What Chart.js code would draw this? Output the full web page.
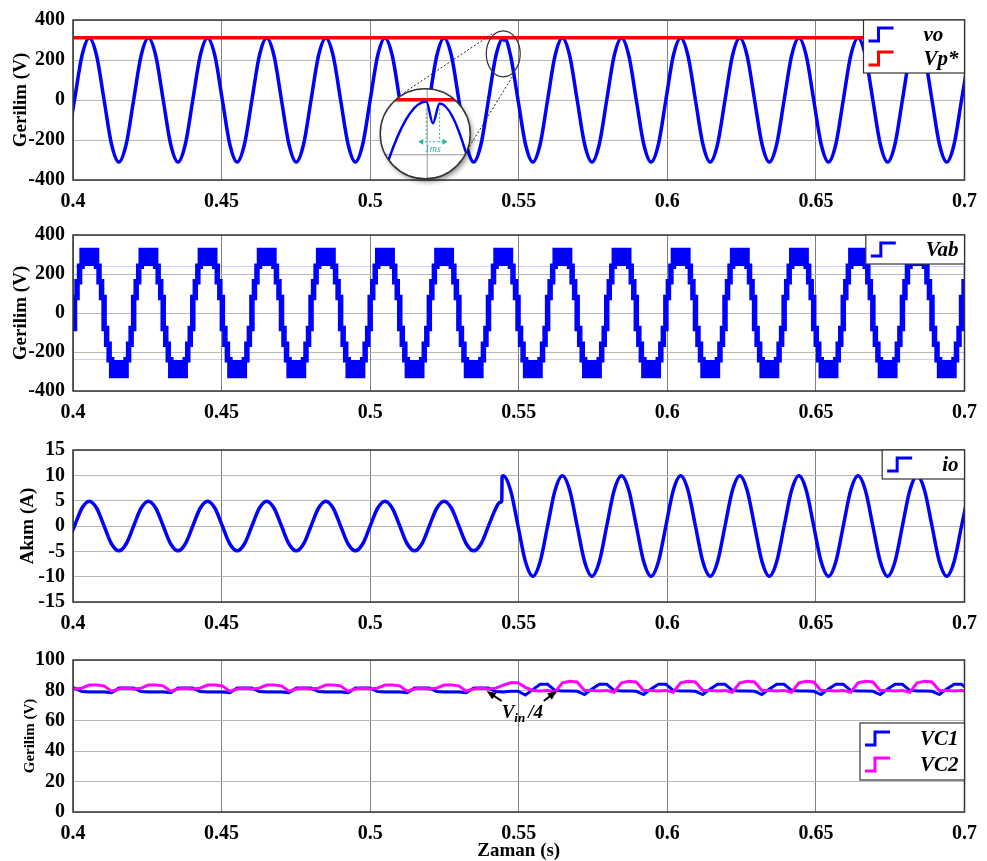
<!DOCTYPE html>
<html>
<head>
<meta charset="utf-8">
<title>Gerilim / Akım</title>
<script src="https://cdn.jsdelivr.net/npm/chart.js"></script>
<style>
  body { margin: 0; background: #fff; }
  #page { position: relative; width: 987px; height: 861px; }
  canvas { position: absolute; left: 0; }
</style>
</head>
<body>
<div id="page">
  <canvas id="voChart" width="987" height="215" style="top:0"></canvas>
  <canvas id="vabChart" width="987" height="215" style="top:215px"></canvas>
  <canvas id="ioChart" width="987" height="210" style="top:430px"></canvas>
  <canvas id="vcChart" width="987" height="221" style="top:640px"></canvas>
</div>
<script>
// sample grid: one reading every 1/8 of a cycle (cycle ~19.9 ms on the picture)
const tStart = 0.39802;
const tStep = 0.0024875;

const xTicks = [0.4, 0.45, 0.5, 0.55, 0.6, 0.65, 0.7];
const xTickLabels = ['0.4', '0.45', '0.5', '0.55', '0.6', '0.65', '0.7'];
const voltTicks = [-400, -200, 0, 200, 400];
const ampTicks = [-15, -10, -5, 0, 5, 10, 15];
const capTicks = [0, 20, 40, 60, 80, 100];

// vo, read at each grid point
const vo = [
  -220, 0, 220, 310, 220, 0, -220, -310,
  -220, 0, 220, 310, 220, 0, -220, -310,
  -220, 0, 220, 310, 220, 0, -220, -310,
  -220, 0, 220, 310, 220, 0, -220, -310,
  -220, 0, 220, 310, 220, 0, -220, -310,
  -220, 0, 220, 310, 220, 0, -220, -310,
  -220, 0, 220, 310, 220, 0, -220, -310,
  -220, 0, 220, 310, 220, 0, -220, -310,
  -220, 0, 220, 310, 220, 0, -220, -310,
  -220, 0, 220, 310, 220, 0, -220, -310,
  -220, 0, 220, 310, 220, 0, -220, -310,
  -220, 0, 220, 310, 220, 0, -220, -310,
  -220, 0, 220, 310, 220, 0, -220, -310,
  -220, 0, 220, 310, 220, 0, -220, -310,
  -220, 0, 220, 310, 220, 0, -220, -310,
  -220, 0, 220
];
// small notch on the vo peak when the load steps
const voNotchT = [0.54503, 0.54528];
const voNotchV = [298, 309];
const notchPeak = [0.54478, 311];

const vpT = [0.39, 0.71];
const vpV = [311, 311];

const vabZeroCross = [
  0.39056, 0.40051, 0.41046, 0.42041, 0.43036, 0.44031, 0.45026, 0.46021,
  0.47016, 0.48011, 0.49006, 0.50001, 0.50996, 0.51991, 0.52986, 0.53981,
  0.54976, 0.55971, 0.56966, 0.57961, 0.58956, 0.59951, 0.60946, 0.61941,
  0.62936, 0.63931, 0.64926, 0.65921, 0.66916, 0.67911, 0.68906, 0.69901
];
const vabStepMs = [0, 0.85, 1.7, 2.55, 7.4, 8.25, 9.1];
const vabStepLevel = [80, 160, 240, 320, 240, 160, 80];

const io = [
  -3.5, 0, 3.5, 4.9, 3.5, 0, -3.5, -4.9,
  -3.5, 0, 3.5, 4.9, 3.5, 0, -3.5, -4.9,
  -3.5, 0, 3.5, 4.9, 3.5, 0, -3.5, -4.9,
  -3.5, 0, 3.5, 4.9, 3.5, 0, -3.5, -4.9,
  -3.5, 0, 3.5, 4.9, 3.5, 0, -3.5, -4.9,
  -3.5, 0, 3.5, 4.9, 3.5, 0, -3.5, -4.9,
  -3.5, 0, 3.5, 4.9, 3.5, 0, -3.5, -4.9,
  -3.5, 0, 3.5, 9.9, 7, 0, -7, -9.9,
  -7, 0, 7, 9.9, 7, 0, -7, -9.9,
  -7, 0, 7, 9.9, 7, 0, -7, -9.9,
  -7, 0, 7, 9.9, 7, 0, -7, -9.9,
  -7, 0, 7, 9.9, 7, 0, -7, -9.9,
  -7, 0, 7, 9.9, 7, 0, -7, -9.9,
  -7, 0, 7, 9.9, 7, 0, -7, -9.9,
  -7, 0, 7, 9.9, 7, 0, -7, -9.9,
  -7, 0, 7
];
// extra readings around the current step
const ioJumpT = [0.5435, 0.5443, 0.54438];
const ioJumpV = [4.6, 4.9, 9.7];

const vc1 = [
  81.5, 81.5, 79.2, 79, 79, 79, 78.5, 81.5,
  81.5, 81.5, 79.2, 79, 79, 79, 78.5, 81.5,
  81.5, 81.5, 79.2, 79, 79, 79, 78.5, 81.5,
  81.5, 81.5, 79.2, 79, 79, 79, 78.5, 81.5,
  81.5, 81.5, 79.2, 79, 79, 79, 78.5, 81.5,
  81.5, 81.5, 79.2, 79, 79, 79, 78.5, 81.5,
  81.5, 81.5, 79.2, 79, 79, 79, 78.5, 81.5,
  81.5, 81.5, 79.2, 79, 79.5, 79.5, 77, 80.5,
  84, 84, 80, 79.6, 79.6, 79.4, 77.3, 81,
  84, 84, 80, 79.6, 79.6, 79.4, 77.3, 81,
  84, 84, 80, 79.6, 79.6, 79.4, 77.3, 81,
  84, 84, 80, 79.6, 79.6, 79.4, 77.3, 81,
  84, 84, 80, 79.6, 79.6, 79.4, 77.3, 81,
  84, 84, 80, 79.6, 79.6, 79.4, 77.3, 81,
  84, 84, 80, 79.6, 79.6, 79.4, 77.3, 81,
  84, 84, 80
];
const vc2 = [
  81.5, 81, 81.5, 83.5, 83.5, 83, 79.5, 81,
  81.5, 81, 81.5, 83.5, 83.5, 83, 79.5, 81,
  81.5, 81, 81.5, 83.5, 83.5, 83, 79.5, 81,
  81.5, 81, 81.5, 83.5, 83.5, 83, 79.5, 81,
  81.5, 81, 81.5, 83.5, 83.5, 83, 79.5, 81,
  81.5, 81, 81.5, 83.5, 83.5, 83, 79.5, 81,
  81.5, 81, 81.5, 83.5, 83.5, 83, 79.5, 81,
  81.5, 81, 81.5, 83.5, 85, 85, 82, 80,
  79.6, 80, 78.8, 85, 86, 85.5, 80, 80,
  79.6, 80, 78.8, 85, 86, 85.5, 80, 80,
  79.6, 80, 78.8, 85, 86, 85.5, 80, 80,
  79.6, 80, 78.8, 85, 86, 85.5, 80, 80,
  79.6, 80, 78.8, 85, 86, 85.5, 80, 80,
  79.6, 80, 78.8, 85, 86, 85.5, 80, 80,
  79.6, 80, 78.8, 85, 86, 85.5, 80, 80,
  79.6, 80, 78.8
];
const vinArrowTips = [[0.5392, 79.6], [0.5628, 79.6]];

const BLUE = '#0000ff', RED = '#ff0000', PINK = '#ff00ff', TEAL = '#26b39a';
const serif = 'Liberation Serif';

function samples(vals, extraT = [], extraV = []) {
  const pts = vals.map((v, i) => ({ x: tStart + i * tStep, y: v }));
  extraT.forEach((t, k) => pts.push({ x: t, y: extraV[k] }));
  return pts.sort((a, b) => a.x - b.x);
}

const vabPts = [];
vabZeroCross.forEach((z, k) => {
  const sign = k % 2 === 0 ? -1 : 1;
  vabStepMs.forEach((ms, j) => vabPts.push({ x: z + ms / 1000, y: sign * vabStepLevel[j] }));
});

const framePlugin = {
  id: 'frame',
  afterDatasetsDraw(chart) {
    const { ctx, chartArea: a } = chart;
    ctx.save();
    ctx.strokeStyle = '#333';
    ctx.lineWidth = 1.5;
    ctx.strokeRect(a.left, a.top, a.right - a.left, a.bottom - a.top);
    ctx.restore();
  }
};

// matlab-like legend box inside the plot
const boxLegend = {
  id: 'boxLegend',
  afterDatasetsDraw(chart, args, opts) {
    const items = chart.data.datasets.filter(d => d.label);
    const { ctx, chartArea: a } = chart;
    const rowH = opts.rowH || 24;
    ctx.save();
    ctx.font = 'italic bold 21px "' + serif + '"';
    const textW = Math.max(...items.map(d => ctx.measureText(d.label).width));
    const w = 60 + textW + 6, h = items.length * rowH + 5;
    const x0 = a.right - w, y0 = a.top + (opts.offsetY || 0);
    ctx.fillStyle = '#fff';
    ctx.fillRect(x0, y0, w, h);
    ctx.strokeStyle = '#333';
    ctx.lineWidth = 1.2;
    ctx.strokeRect(x0, y0, w, h);
    items.forEach((d, j) => {
      const cy = y0 + 3 + rowH * (j + 0.5);
      ctx.strokeStyle = d.borderColor;
      ctx.lineWidth = 3;
      ctx.beginPath();
      ctx.moveTo(x0 + 5, cy + 6);
      ctx.lineTo(x0 + 15, cy + 6);
      ctx.lineTo(x0 + 15, cy - 7);
      ctx.lineTo(x0 + 30, cy - 7);
      ctx.stroke();
      ctx.fillStyle = '#000';
      ctx.textBaseline = 'middle';
      ctx.fillText(d.label, x0 + 60, cy + 1);
    });
    ctx.restore();
  }
};

// magnifier circle over the vo peak at the load step
const insetPlugin = {
  id: 'inset',
  afterDatasetsDraw(chart) {
    const { ctx, scales: { x, y } } = chart;
    const px = x.getPixelForValue(notchPeak[0]), py = y.getPixelForValue(notchPeak[1]);
    const cx = px - 78, cy = py + 96, r = 45;
    const qx = cx + 1, qy = cy - 34, mag = 9;
    ctx.save();
    ctx.strokeStyle = '#222';
    ctx.lineWidth = 1;
    ctx.setLineDash([2, 2]);
    ctx.beginPath();
    ctx.moveTo(px - 11, py - 4); ctx.lineTo(px - 101, py + 56);
    ctx.moveTo(px + 9, py + 39); ctx.lineTo(px - 34, py + 109);
    ctx.stroke();
    ctx.setLineDash([]);
    ctx.strokeStyle = '#333';
    ctx.lineWidth = 1.2;
    ctx.beginPath();
    ctx.ellipse(px, py + 16, 17, 23, 0, 0, Math.PI * 2);
    ctx.stroke();

    ctx.save();
    ctx.shadowColor = 'rgba(0,0,0,0.45)';
    ctx.shadowBlur = 5;
    ctx.shadowOffsetX = 2;
    ctx.shadowOffsetY = 3;
    ctx.beginPath();
    ctx.arc(cx, cy, r, 0, Math.PI * 2);
    ctx.fillStyle = '#fff';
    ctx.fill();
    ctx.restore();

    ctx.save();
    ctx.beginPath();
    ctx.arc(cx, cy, r, 0, Math.PI * 2);
    ctx.clip();
    ctx.strokeStyle = '#9a9a9a';
    ctx.lineWidth = 1;
    ctx.beginPath();
    ctx.moveTo(qx + 1, cy - r); ctx.lineTo(qx + 1, cy + r);
    ctx.moveTo(cx - r, cy + 21); ctx.lineTo(cx + r, cy + 21);
    ctx.stroke();
    [[1, RED, 3.5], [0, BLUE, 2.5]].forEach(([idx, col, lw]) => {
      const line = chart.getDatasetMeta(idx).dataset;
      ctx.save();
      ctx.translate(qx, qy);
      ctx.scale(mag, mag);
      ctx.translate(-px, -py);
      ctx.beginPath();
      line.path(ctx);
      ctx.restore();
      ctx.strokeStyle = col;
      ctx.lineWidth = lw;
      ctx.stroke();
    });
    const tx1 = qx, tx2 = qx + (x.getPixelForValue(voNotchT[1]) - px) * mag;
    ctx.strokeStyle = TEAL;
    ctx.fillStyle = TEAL;
    ctx.lineWidth = 1;
    ctx.setLineDash([2, 2]);
    ctx.beginPath();
    ctx.moveTo(tx1, qy + 9); ctx.lineTo(tx1, qy + 42);
    ctx.moveTo(tx2, qy + 9); ctx.lineTo(tx2, qy + 42);
    ctx.moveTo(tx1 - 5, qy + 42); ctx.lineTo(tx2 + 5, qy + 42);
    ctx.stroke();
    ctx.setLineDash([]);
    ctx.beginPath();
    ctx.moveTo(tx1 - 8, qy + 42); ctx.lineTo(tx1 - 3, qy + 39); ctx.lineTo(tx1 - 3, qy + 45); ctx.closePath();
    ctx.moveTo(tx2 + 8, qy + 42); ctx.lineTo(tx2 + 3, qy + 39); ctx.lineTo(tx2 + 3, qy + 45); ctx.closePath();
    ctx.fill();
    ctx.font = 'italic 10px "' + serif + '"';
    ctx.textAlign = 'center';
    ctx.textBaseline = 'top';
    ctx.fillText('1ms', (tx1 + tx2) / 2, qy + 45);
    ctx.restore();

    ctx.strokeStyle = '#333';
    ctx.lineWidth = 1.5;
    ctx.beginPath();
    ctx.arc(cx, cy, r, 0, Math.PI * 2);
    ctx.stroke();
    ctx.restore();
  }
};

function arrow(ctx, from, to) {
  const ang = Math.atan2(to[1] - from[1], to[0] - from[0]);
  ctx.beginPath();
  ctx.moveTo(from[0], from[1]);
  ctx.lineTo(to[0] - 6 * Math.cos(ang), to[1] - 6 * Math.sin(ang));
  ctx.stroke();
  ctx.beginPath();
  ctx.moveTo(to[0], to[1]);
  ctx.lineTo(to[0] - 10 * Math.cos(ang - 0.4), to[1] - 10 * Math.sin(ang - 0.4));
  ctx.lineTo(to[0] - 10 * Math.cos(ang + 0.4), to[1] - 10 * Math.sin(ang + 0.4));
  ctx.closePath();
  ctx.fill();
}

const vinNote = {
  id: 'vinNote',
  afterDatasetsDraw(chart) {
    const { ctx, scales: { x, y } } = chart;
    const tips = vinArrowTips.map(([t, v]) => [x.getPixelForValue(t), y.getPixelForValue(v)]);
    ctx.save();
    ctx.strokeStyle = '#000';
    ctx.fillStyle = '#000';
    ctx.lineWidth = 2;
    arrow(ctx, [tips[0][0] + 15, tips[0][1] + 10], tips[0]);
    arrow(ctx, [tips[1][0] - 13, tips[1][1] + 10], tips[1]);
    const bx = tips[0][0] + 15, by = tips[0][1] + 27;
    ctx.textBaseline = 'alphabetic';
    ctx.font = 'italic bold 19px "' + serif + '"';
    ctx.fillText('V', bx, by);
    let w = ctx.measureText('V').width;
    ctx.font = 'italic bold 13px "' + serif + '"';
    ctx.fillText('in', bx + w, by + 4);
    w += ctx.measureText('in').width + 3;
    ctx.font = 'italic bold 19px "' + serif + '"';
    ctx.fillText('/4', bx + w, by);
    ctx.restore();
  }
};

function makeChart(id, cfg) {
  const tickFont = { family: serif, weight: 'bold', size: 20 };
  return new Chart(document.getElementById(id), {
    type: 'line',
    data: { datasets: cfg.datasets },
    options: {
      responsive: false,
      animation: false,
      events: [],
      layout: { padding: { top: cfg.padTop, right: 21, left: 0, bottom: 0 } },
      elements: { point: { radius: 0 } },
      plugins: { legend: { display: false }, tooltip: { enabled: false }, boxLegend: cfg.legend || {} },
      scales: {
        x: {
          type: 'linear', min: 0.4, max: 0.7,
          afterBuildTicks: s => { s.ticks = xTicks.map(v => ({ value: v })); },
          afterFit: s => { s.height = cfg.xAxisH; },
          ticks: { callback: (v, i) => xTickLabels[i], font: tickFont, color: '#000', padding: 10, maxRotation: 0, autoSkip: false },
          grid: { color: '#808080', drawTicks: false },
          border: { display: false },
          title: cfg.xTitle
            ? { display: true, text: cfg.xTitle, color: '#000', font: { family: serif, weight: 'bold', size: 19, lineHeight: 1 }, padding: { top: 0, bottom: 0 } }
            : { display: false }
        },
        y: {
          min: cfg.yTicks[0], max: cfg.yTicks[cfg.yTicks.length - 1],
          afterBuildTicks: s => { s.ticks = cfg.yTicks.map(v => ({ value: v })); },
          afterFit: s => { s.width = 73; },
          ticks: { callback: v => String(v), font: tickFont, color: '#000', padding: 8, autoSkip: false },
          grid: { color: '#b8b8b8', drawTicks: false },
          border: { display: false },
          title: { display: true, text: cfg.yTitle, color: '#000', font: { family: serif, weight: 'bold', size: cfg.titleSize, lineHeight: 1 }, padding: { top: cfg.titlePad, bottom: 0 } }
        }
      }
    },
    plugins: [framePlugin, ...(cfg.extra || []), boxLegend]
  });
}

makeChart('voChart', {
  padTop: 15, xAxisH: 35, yTicks: voltTicks, yTitle: 'Gerilim (V)', titleSize: 19, titlePad: 11.5,
  extra: [insetPlugin],
  datasets: [
    { label: 'vo', data: samples(vo, voNotchT, voNotchV), borderColor: BLUE, borderWidth: 3.5, cubicInterpolationMode: 'monotone', order: 1 },
    { label: 'Vp*', data: vpT.map((t, i) => ({ x: t, y: vpV[i] })), borderColor: RED, borderWidth: 3.5, order: 0 }
  ]
});

makeChart('vabChart', {
  padTop: 11, xAxisH: 39, yTicks: voltTicks, yTitle: 'Gerilim (V)', titleSize: 19, titlePad: 11.5,
  datasets: [
    { label: 'Vab', data: vabPts, borderColor: BLUE, borderWidth: 5.5, stepped: true,
      fill: { target: { value: 240 }, above: BLUE, below: 'rgba(0,0,0,0)' } },
    { data: vabPts, borderColor: 'rgba(0,0,0,0)', borderWidth: 0, stepped: true,
      fill: { target: { value: -240 }, above: 'rgba(0,0,0,0)', below: BLUE } }
  ]
});

makeChart('ioChart', {
  padTop: 8, xAxisH: 38, yTicks: ampTicks, yTitle: 'Akım (A)', titleSize: 19, titlePad: 18.5,
  datasets: [
    { label: 'io', data: samples(io, ioJumpT, ioJumpV), borderColor: BLUE, borderWidth: 3.5, cubicInterpolationMode: 'monotone' }
  ]
});

makeChart('vcChart', {
  padTop: 10, xAxisH: 49, yTicks: capTicks, yTitle: 'Gerilim (V)', titleSize: 15, titlePad: 23,
  xTitle: 'Zaman (s)',
  legend: { offsetY: 63, rowH: 26 },
  extra: [vinNote],
  datasets: [
    { label: 'VC1', data: samples(vc1), borderColor: BLUE, borderWidth: 3, order: 1 },
    { label: 'VC2', data: samples(vc2), borderColor: PINK, borderWidth: 3, order: 0 }
  ]
});
</script>
</body>
</html>
